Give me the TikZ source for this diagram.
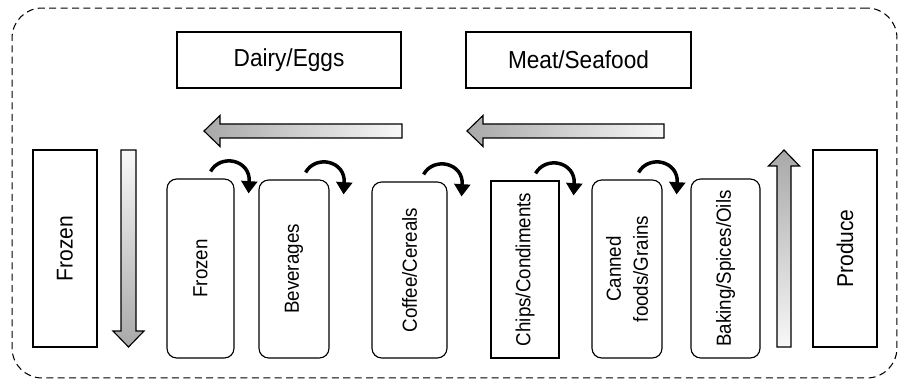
\documentclass[tikz,border=0pt]{standalone}
\usepackage{fontspec}
\setmainfont[FakeStretch=0.92]{Liberation Sans}
\usetikzlibrary{arrows.meta}
\begin{document}
\begin{tikzpicture}[x=0.02cm,y=-0.02cm,
  box/.style={draw,line width=0.65pt,inner sep=0pt},
  rbox/.style={box,rounded corners=5.5pt},
  toptext/.style={font=\fontsize{14}{16}\selectfont},
  bigtext/.style={rotate=90,font=\fontsize{13}{15}\selectfont},
  aisletext/.style={rotate=90,font=\fontsize{11.6}{15.4}\selectfont,align=center},
  flow/.style={draw,line width=0.65pt},
  turnarrow/.style={line width=2pt,-{Triangle[length=7pt,width=9pt]}},
  turn/.pic={\draw[turnarrow] (-24,-7) .. controls (-14,-25) and (16,-19) .. (14,15);}
]
\useasboundingbox (0,0) rectangle (901,384);
% outer store outline
\node[draw,line width=0.6pt,dash pattern=on 4pt off 2.5pt,rounded corners=17pt,
      minimum width=17.7cm,minimum height=7.4cm,inner sep=0pt] (outer) at (454.5,193) {};
% top departments
\node[box,minimum width=4.48cm,minimum height=1.12cm] (dairy) at (289,60) {};
\node[toptext] at (dairy) {Dairy/Eggs};
\node[box,minimum width=4.5cm,minimum height=1.12cm] (meat) at (578.5,60) {};
\node[toptext] at (meat) {Meat/Seafood};
% side departments
\node[box,minimum width=1.28cm,minimum height=3.94cm] (frozenL) at (65,248.5) {};
\node[bigtext] at (frozenL) {Frozen};
\node[box,minimum width=1.28cm,minimum height=3.94cm] (produce) at (845,248.5) {};
\node[bigtext] at (produce) {Produce};
% aisles
\node[rbox,minimum width=1.34cm,minimum height=3.58cm] (a1) at (200.5,268.5) {};
\node[aisletext] at (a1) {Frozen};
\node[rbox,minimum width=1.4cm,minimum height=3.56cm] (a2) at (294,269) {};
\node[aisletext] at (a2) {Beverages};
\node[rbox,minimum width=1.5cm,minimum height=3.52cm] (a3) at (409.5,270) {};
\node[aisletext] at (a3) {Coffee/Cereals};
\node[box,minimum width=1.36cm,minimum height=3.54cm] (a4) at (525,269.5) {};
\node[aisletext] at (a4) {Chips/Condiments};
\node[rbox,minimum width=1.4cm,minimum height=3.56cm] (a5) at (627,269) {};
\node[aisletext] at (a5) {Canned\\foods/Grains};
\node[rbox,minimum width=1.38cm,minimum height=3.58cm] (a6) at (725.5,268.5) {};
\node[aisletext] at (a6) {Baking/Spices/Oils};
% shaded flow arrows
\path[flow,left color=black!34,right color=black!3]
  (204,131) -- (220,115.5) -- (220,124) -- (402,124) -- (402,138) -- (220,138) -- (220,146.5) -- cycle;
\path[flow,left color=black!34,right color=black!3]
  (467,131) -- (483,115.5) -- (483,124) -- (664,124) -- (664,138) -- (483,138) -- (483,146.5) -- cycle;
\path[flow,top color=black!3,bottom color=black!34]
  (121,150) -- (136,150) -- (136,331) -- (144,331) -- (128.5,347) -- (113,331) -- (121,331) -- cycle;
\path[flow,top color=black!34,bottom color=black!3]
  (784,150) -- (799.5,166) -- (791,166) -- (791,347) -- (777,347) -- (777,166) -- (768.5,166) -- cycle;
% turning arrows between aisles
\pic at (a1.north east) {turn};
\pic at (a2.north east) {turn};
\pic at (a3.north east) {turn};
\pic at (a4.north east) {turn};
\pic at (a5.north east) {turn};
\end{tikzpicture}
\end{document}
